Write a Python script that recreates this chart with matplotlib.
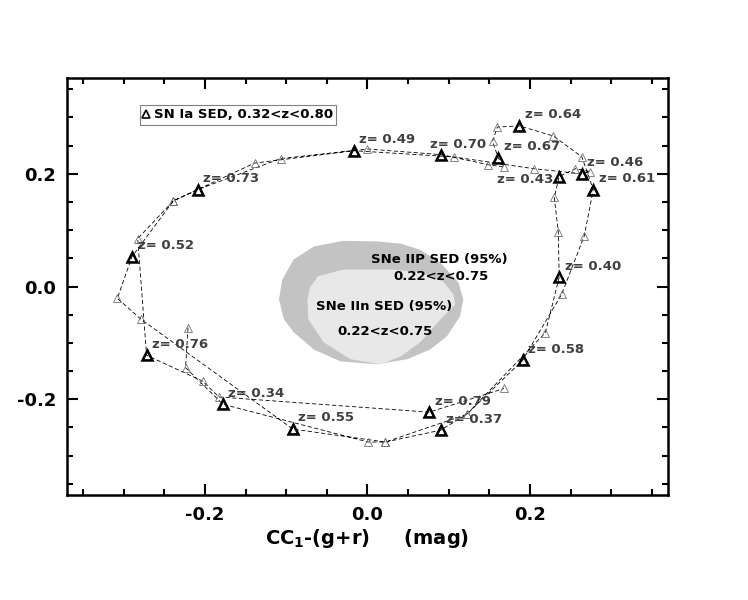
import matplotlib
matplotlib.use("Agg")
import matplotlib.pyplot as plt
from matplotlib.ticker import MultipleLocator, FormatStrFormatter

plt.rcParams['font.family'] = 'DejaVu Sans'
plt.rcParams['font.weight'] = 'bold'
plt.rcParams['axes.labelweight'] = 'bold'
plt.rcParams['mathtext.default'] = 'bf'

# trajetoria SN Ia, z = 0.32 ... 0.80 (passo 0.01)
z = [0.32, 0.33, 0.34, 0.35, 0.36, 0.37, 0.38, 0.39, 0.40, 0.41,
     0.42, 0.43, 0.44, 0.45, 0.46, 0.47, 0.48, 0.49, 0.50, 0.51,
     0.52, 0.53, 0.54, 0.55, 0.56, 0.57, 0.58, 0.59, 0.60, 0.61,
     0.62, 0.63, 0.64, 0.65, 0.66, 0.67, 0.68, 0.69, 0.70, 0.71,
     0.72, 0.73, 0.74, 0.75, 0.76, 0.77, 0.78, 0.79, 0.80]
cc1 = [-0.221, -0.224, -0.178, 0.001, 0.022, 0.090, 0.122, 0.219, 0.236, 0.235,
       0.230, 0.236, 0.256, 0.274, 0.264, 0.205, 0.106, -0.017, -0.139, -0.239,
       -0.290, -0.308, -0.279, -0.092, 0.022, 0.122, 0.191, 0.239, 0.267, 0.278,
       0.264, 0.229, 0.187, 0.160, 0.154, 0.161, 0.168, 0.149, 0.091, 0.000,
       -0.107, -0.209, -0.239, -0.283, -0.272, -0.203, -0.183, 0.076, 0.168]
cc2 = [-0.073, -0.144, -0.209, -0.276, -0.276, -0.255, -0.227, -0.082, 0.016, 0.097,
       0.158, 0.195, 0.209, 0.204, 0.200, 0.209, 0.230, 0.241, 0.219, 0.152,
       0.053, -0.021, -0.058, -0.253, -0.276, -0.227, -0.131, -0.014, 0.090, 0.172,
       0.230, 0.267, 0.285, 0.283, 0.258, 0.228, 0.212, 0.216, 0.234, 0.244,
       0.227, 0.172, 0.152, 0.085, -0.122, -0.168, -0.196, -0.223, -0.181]

# pontos marcados (a cada 0.03 em z)
z_marc = [0.34, 0.37, 0.40, 0.43, 0.46, 0.49, 0.52, 0.55,
          0.58, 0.61, 0.64, 0.67, 0.70, 0.73, 0.76, 0.79]

# contornos 95% (SNe IIP e SNe IIn)
iip_x = [-0.109, -0.103, -0.091, -0.066, -0.033, 0.012, 0.049, 0.077, 0.098, 0.114,
         0.118, 0.112, 0.090, 0.065, 0.041, 0.012, -0.030, -0.066, -0.091, -0.105]
iip_y = [-0.023, -0.058, -0.081, -0.112, -0.133, -0.138, -0.129, -0.112, -0.088, -0.053,
         -0.023, 0.007, 0.042, 0.065, 0.076, 0.080, 0.081, 0.071, 0.048, 0.012]
iin_x = [-0.074, -0.073, -0.054, -0.021, 0.016, 0.041, 0.065, 0.090, 0.108, 0.106,
         0.093, 0.065, 0.032, -0.030, -0.061, -0.071]
iin_y = [-0.023, -0.058, -0.099, -0.129, -0.138, -0.124, -0.099, -0.058, -0.032, -0.014,
         0.009, 0.025, 0.030, 0.030, 0.018, -0.002]

fig = plt.figure(figsize=(7.48, 6.0), dpi=100)
ax = fig.add_axes([0.0896, 0.175, 0.8034, 0.695])

ax.fill(iip_x, iip_y, color='#c3c3c3', lw=0, zorder=1)
ax.fill(iin_x, iin_y, color='#e8e8e8', lw=0, zorder=2)

ax.text(0.088, 0.048, 'SNe IIP SED (95%)', ha='center', va='center', fontsize=9.5, zorder=3)
ax.text(0.090, 0.018, '0.22<z<0.75', ha='center', va='center', fontsize=9.5, zorder=3)
ax.text(0.021, -0.035, 'SNe IIn SED (95%)', ha='center', va='center', fontsize=9.5, zorder=3)
ax.text(0.022, -0.080, '0.22<z<0.75', ha='center', va='center', fontsize=9.5, zorder=3)

# linha tracejada e pontos pequenos
ax.plot(cc1, cc2, ls=(0, (5, 3)), color='black', lw=0.6, zorder=4)
ax.plot(cc1, cc2, ls='none', marker='^', ms=5.5, mfc='none', mec='#707070', mew=0.6, zorder=5)

# pontos marcados com rotulo
for zi, xi, yi in zip(z, cc1, cc2):
    if round(zi, 2) in z_marc:
        ax.plot(xi, yi, ls='none', marker='^', ms=7, mfc='none', mec='black', mew=1.8, zorder=6)
        rot = 'z= %.2f' % zi
        if abs(zi - 0.43) < 1e-6:
            ax.annotate(rot, (xi, yi), xytext=(-4, -2), textcoords='offset points',
                        ha='right', va='center', fontsize=9.5, color='#404040', zorder=7)
        elif abs(zi - 0.70) < 1e-6:
            ax.annotate(rot, (xi, yi), xytext=(-8, 7), textcoords='offset points',
                        ha='left', va='center', fontsize=9.5, color='#404040', zorder=7)
        else:
            ax.annotate(rot, (xi, yi), xytext=(4, 8), textcoords='offset points',
                        ha='left', va='center', fontsize=9.5, color='#404040', zorder=7)

# legenda
ax.plot([], [], ls='none', marker='^', ms=5.5, mfc='none', mec='black', mew=1.2,
        label='SN Ia SED, 0.32<z<0.80')
leg = ax.legend(loc='upper left', bbox_to_anchor=(0.121, 0.935), handlelength=0.5,
                handletextpad=0.3, borderpad=0.25, borderaxespad=0, fancybox=False,
                framealpha=1, edgecolor='#808080', prop={'size': 9.5, 'weight': 'bold'})
leg.get_frame().set_linewidth(0.8)

ax.set_xlim(-0.37, 0.37)
ax.set_ylim(-0.37, 0.37)
for eixo in (ax.xaxis, ax.yaxis):
    eixo.set_major_locator(MultipleLocator(0.2))
    eixo.set_minor_locator(MultipleLocator(0.05))
    eixo.set_major_formatter(FormatStrFormatter('%.1f'))
ax.tick_params(which='both', direction='in', top=True, right=True, width=1.5, labelsize=13)
ax.tick_params(which='major', length=8, pad=8)
ax.tick_params(which='minor', length=4)
for s in ax.spines.values():
    s.set_linewidth(1.8)

ax.set_xlabel('CC$_1$-(g+r)     (mag)', fontsize=14, fontweight='bold', labelpad=2)
ax.set_ylabel('CC$_2$-(r+i)     (mag)', fontsize=14, fontweight='bold')
ax.yaxis.set_label_coords(-0.108, 0.5)

fig.savefig('out.png', dpi=100)
